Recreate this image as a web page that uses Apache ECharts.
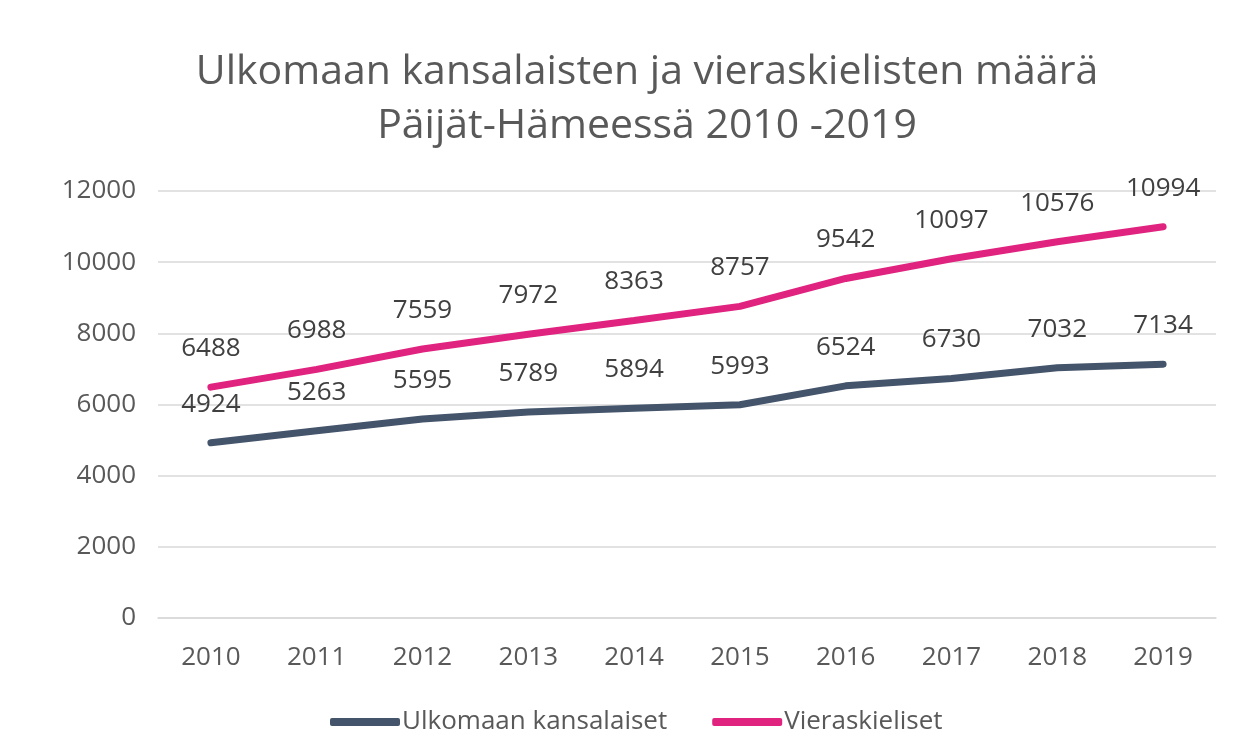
<!DOCTYPE html>
<html>
<head>
<meta charset="utf-8">
<script src="https://cdn.jsdelivr.net/npm/echarts@6/dist/echarts.min.js"></script>
<style>
  html, body { margin: 0; padding: 0; background: #fff; }
  #chart { width: 1237px; height: 742px; }
</style>
</head>
<body>
<div id="chart"></div>
<script>
var years = ['2010', '2011', '2012', '2013', '2014', '2015', '2016', '2017', '2018', '2019'];
var ulkomaan = [4924, 5263, 5595, 5789, 5894, 5993, 6524, 6730, 7032, 7134];
var vieraskieliset = [6488, 6988, 7559, 7972, 8363, 8757, 9542, 10097, 10576, 10994];

var font = '"Open Sans", "Noto Sans", sans-serif';
var chart = echarts.init(document.getElementById('chart'));

var option = {
    animation: false,
    textStyle: { fontFamily: font },
    title: {
        text: 'Ulkomaan kansalaisten ja vieraskielisten määrä\nPäijät-Hämeessä 2010 -2019',
        left: 642,
        textAlign: 'center',
        top: 40,
        textStyle: { fontSize: 41, fontWeight: 'normal', color: '#595959', lineHeight: 54, fontFamily: font }
    },
    legend: {
        bottom: 2,
        left: 325,
        itemWidth: 70,
        itemHeight: 8,
        itemGap: 45,
        icon: 'roundRect',
        textStyle: { fontSize: 26, color: '#595959', padding: [0, 0, 0, -3] },
        data: ['Ulkomaan kansalaiset', 'Vieraskieliset']
    },
    grid: { left: 158, right: 21, top: 191, bottom: 124 },
    xAxis: {
        type: 'category',
        data: years,
        axisLine: { lineStyle: { color: '#d9d9d9', width: 1.5 } },
        axisTick: { show: false },
        axisLabel: { fontSize: 26, color: '#595959', margin: 27 }
    },
    yAxis: {
        type: 'value',
        min: 0,
        max: 12000,
        interval: 2000,
        axisLine: { show: false },
        axisTick: { show: false },
        axisLabel: { fontSize: 26, color: '#595959', margin: 22, formatter: function (v) { return String(v); } },
        splitLine: { lineStyle: { color: '#d9d9d9', width: 1.5 } }
    },
    series: [
        {
            name: 'Ulkomaan kansalaiset',
            type: 'line',
            data: ulkomaan,
            symbol: 'circle',
            symbolSize: 1,
            showSymbol: true,
            itemStyle: { color: '#44546a' },
            lineStyle: { width: 7, color: '#44546a', cap: 'round' },
            label: { show: true, position: 'top', distance: 25, fontSize: 26, color: '#404040' }
        },
        {
            name: 'Vieraskieliset',
            type: 'line',
            data: vieraskieliset,
            symbol: 'circle',
            symbolSize: 1,
            showSymbol: true,
            itemStyle: { color: '#e0237f' },
            lineStyle: { width: 7, color: '#e0237f', cap: 'round' },
            label: { show: true, position: 'top', distance: 25, fontSize: 26, color: '#404040' }
        }
    ]
};

chart.setOption(option);
</script>
</body>
</html>
